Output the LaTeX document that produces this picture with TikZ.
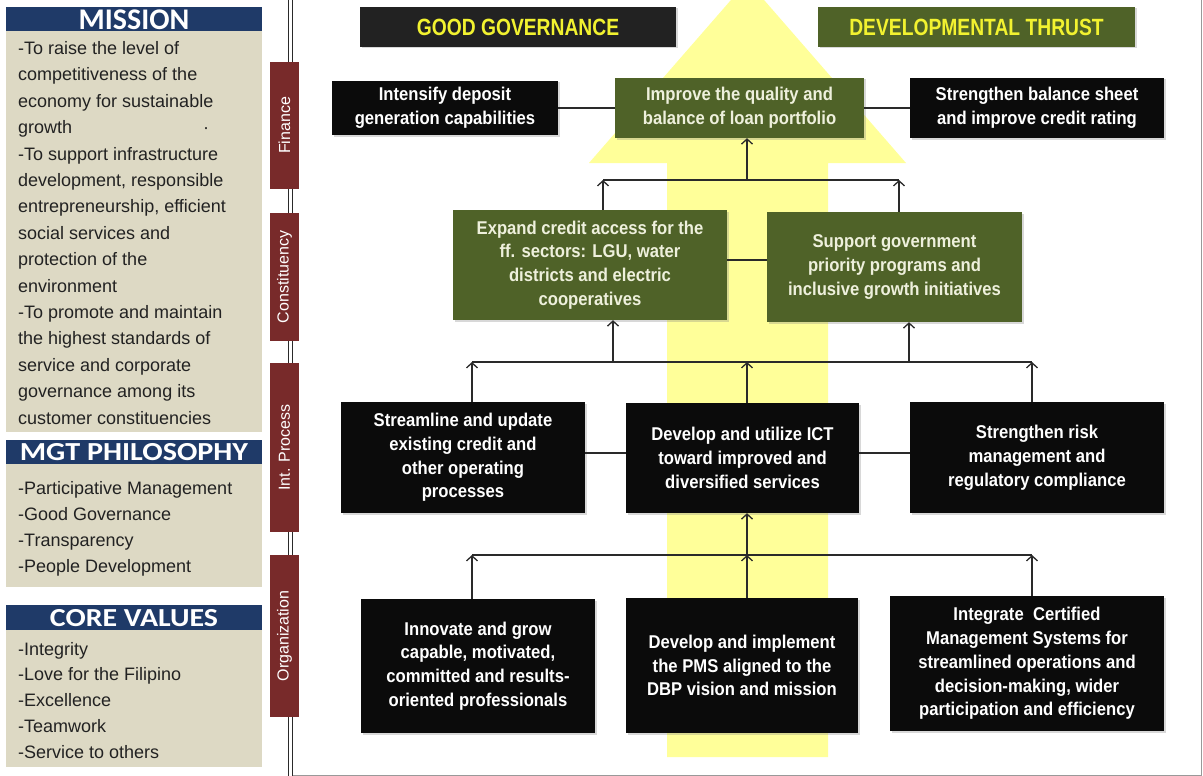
\documentclass[tikz,border=0pt]{standalone}
\usepackage{fontspec}
\usepackage{graphicx}
\setmainfont{Liberation Sans}
\newfontfamily\calib{Carlito}
\newfontfamily\boxfont[FakeStretch=0.9]{Liberation Sans}
\usetikzlibrary{arrows.meta,shadows}
\definecolor{navy}{HTML}{1F3A68}
\definecolor{beige}{HTML}{DDD9C4}
\definecolor{maroon}{HTML}{782A2A}
\definecolor{olive}{HTML}{4F6228}
\definecolor{pyellow}{HTML}{FFFF99}
\definecolor{hyellow}{HTML}{F2F230}
\definecolor{boxblack}{HTML}{0B0B0B}
\definecolor{hdark}{HTML}{222222}
\definecolor{linegray}{HTML}{2A2A2A}
\definecolor{oltext}{HTML}{EEF0DC}
\definecolor{ltext}{HTML}{222222}
\begin{document}
\begin{tikzpicture}[x=1pt,y=-1pt,
  boxbase/.style={inner sep=2pt, align=center, font=\boxfont\fontsize{18.5}{23.8}\selectfont\bfseries,
    drop shadow={shadow xshift=1.5pt,shadow yshift=-1.5pt,opacity=0.3}},
  bbox/.style={boxbase, fill=boxblack, text=white},
  gbox/.style={boxbase, fill=olive, text=oltext},
  hbox/.style={inner sep=0pt, text=hyellow, minimum width=317pt, minimum height=40pt,
    drop shadow={shadow xshift=1.5pt,shadow yshift=-1.5pt,opacity=0.3}},
  persp/.style={fill=maroon, text=white, rotate=90, minimum height=29pt, inner sep=0pt,
    font=\fontsize{16}{16}\selectfont},
  hdr/.style={inner sep=0pt, text=white},
  ltxt/.style={inner sep=0pt, anchor=base west, text=ltext, font=\fontsize{18}{18}\selectfont},
  ln/.style={draw=linegray, line width=1.3pt},
  arr/.style={ln, -{Straight Barb[length=5pt,width=11pt]}}
]
\useasboundingbox (0,0) rectangle (1203,776);
\fill[white] (0,0) rectangle (1203,776);

% ---------- left panel ----------
\fill[navy] (6,7) rectangle (262,31);
\fill[beige] (6,31) rectangle (262,432);
\fill[navy] (6,440) rectangle (262,464);
\fill[beige] (6,464) rectangle (262,587);
\fill[navy] (6,605) rectangle (262,630);
\fill[beige] (6,630) rectangle (262,767);
\node[hdr] (hmis) at (134,19.5) {\calib\bfseries\fontsize{30}{30}\selectfont MISSION};
\node[hdr] (hmgt) at (134,452.5) {\scalebox{1.16}[1]{\calib\bfseries\fontsize{26}{26}\selectfont MGT PHILOSOPHY}};
\node[hdr] (hcor) at (134,618) {\scalebox{1.15}[1]{\calib\bfseries\fontsize{26}{26}\selectfont CORE VALUES}};

\foreach \t [count=\i] in {{-To raise the level of},{competitiveness of the},{economy for sustainable},
  {growth\hspace{131pt}·},{-To support infrastructure},{development, responsible},
  {entrepreneurship, efficient},{social services and},{protection of the},{environment},
  {-To promote and maintain},{the highest standards of},{service and corporate},
  {governance among its},{customer constituencies}}
  \node[ltxt] (ms\i) at (18,{54.5+26.4*(\i-1)}) {\t};
\foreach \t [count=\i] in {{-Participative Management},{-Good Governance},{-Transparency},{-People Development}}
  \node[ltxt] (mg\i) at (18,{494+26*(\i-1)}) {\t};
\foreach \t [count=\i] in {{-Integrity},{-Love for the Filipino},{-Excellence},{-Teamwork},{-Service to others}}
  \node[ltxt] (cv\i) at (18,{655+25.8*(\i-1)}) {\t};

% ---------- frame and divider ----------
\draw[gray!80, line width=0.8pt] (292,0) -- (292,775) -- (1201,775) -- (1201,0);
\draw[linegray, line width=1pt] (288,0) -- (288,776);
\draw[linegray, line width=1pt] (292,0) -- (292,776);

% ---------- big yellow arrow ----------
\fill[pyellow] (667,757) -- (667,163) -- (589,163) -- (747.5,-19) -- (906,163) -- (828,163) -- (828,757) -- cycle;

% ---------- perspective labels ----------
\node[persp, minimum width=127pt] (pf) at (284.5,125.5) {Finance};
\node[persp, minimum width=128pt] (pc) at (284.5,277) {Constituency};
\node[persp, minimum width=169pt] (pi) at (284.5,447.5) {Int. Process};
\node[persp, minimum width=162pt] (po) at (284.5,636) {Organization};

% ---------- headers ----------
\node[hbox, fill=hdark, minimum width=316pt] (gg) at (518,27)
  {\scalebox{0.82}[1]{\fontsize{23.5}{23.5}\selectfont\bfseries GOOD GOVERNANCE}};
\node[hbox, fill=olive] (dt) at (976.5,27)
  {\scalebox{0.82}[1]{\fontsize{23.5}{23.5}\selectfont\bfseries DEVELOPMENTAL THRUST}};

% ---------- coordinates for buses ----------
\coordinate (cb) at (747,180);
\coordinate (cbl) at (603,180);
\coordinate (cbr) at (899,180);
\coordinate (ch) at (747,260);
\coordinate (ib) at (747,362);
\coordinate (ibl) at (472,362);
\coordinate (ibr) at (1032,362);
\coordinate (ibc1) at (613,362);
\coordinate (ibc2) at (909,362);
\coordinate (ih) at (747,453);
\coordinate (ob) at (747,555);
\coordinate (obl) at (472,555);
\coordinate (obr) at (1032,555);

% ---------- boxes ----------
\path
  node[bbox, minimum width=226pt, minimum height=54pt] (fin1) at (445,108)
    {Intensify deposit\\generation capabilities}
  node[gbox, minimum width=249pt, minimum height=60pt] (fin2) at (739.5,108)
    {Improve the quality and\\balance of loan portfolio}
  node[bbox, minimum width=254pt, minimum height=60pt] (fin3) at (1037,108)
    {Strengthen balance sheet\\and improve credit rating}
  node[gbox, minimum width=274pt, minimum height=110pt] (con1) at (590,265)
    {Expand credit access for the\\ff. sectors: LGU, water\\districts and electric\\cooperatives}
  node[gbox, minimum width=255pt, minimum height=110pt] (con2) at (894.5,267)
    {Support government\\priority programs and\\inclusive growth initiatives}
  node[bbox, minimum width=244pt, minimum height=111pt] (ip1) at (463,457.5)
    {Streamline and update\\existing credit and\\other operating\\processes}
  node[bbox, minimum width=233pt, minimum height=110pt] (ip2) at (742.5,458)
    {Develop and utilize ICT\\toward improved and\\diversified services}
  node[bbox, minimum width=254pt, minimum height=111pt] (ip3) at (1037,457.5)
    {Strengthen risk\\management and\\regulatory compliance}
  node[bbox, minimum width=234pt, minimum height=134pt] (org1) at (478,666)
    {Innovate and grow\\capable, motivated,\\committed and results-\\oriented professionals}
  node[bbox, minimum width=232pt, minimum height=135pt] (org2) at (742,665.5)
    {Develop and implement\\the PMS aligned to the\\DBP vision and mission}
  node[bbox, minimum width=274pt, minimum height=135pt] (org3) at (1027,663.5)
    {Integrate \ Certified\\Management Systems for\\streamlined operations and\\decision-making, wider\\participation and efficiency};

% ---------- connectors ----------
\draw[ln] (fin1.east) -- (fin2.west);
\draw[ln] (fin2.east) -- (fin3.west);
\draw[ln] (cbl) -- (cbr);
\draw[arr] (con1.north -| cbl) -- (cbl);
\draw[arr] (con2.north -| cbr) -- (cbr);
\draw[arr] (cb) -- (fin2.south -| cb);
\draw[ln] (con1.east |- ch) -- (con2.west |- ch);
\draw[ln] (ibl) -- (ibr);
\draw[arr] (ip1.north -| ibl) -- (ibl);
\draw[arr] (ip2.north -| ib) -- (ib);
\draw[arr] (ip3.north -| ibr) -- (ibr);
\draw[arr] (ibc1) -- (con1.south -| ibc1);
\draw[arr] (ibc2) -- (con2.south -| ibc2);
\draw[ln] (ip1.east |- ih) -- (ip2.west |- ih);
\draw[ln] (ip2.east |- ih) -- (ip3.west |- ih);
\draw[ln] (obl) -- (obr);
\draw[arr] (org1.north -| obl) -- (obl);
\draw[arr] (org2.north -| ob) -- (ob);
\draw[arr] (org3.north -| obr) -- (obr);
\draw[arr] (ob) -- (ip2.south -| ob);
\end{tikzpicture}
\end{document}
